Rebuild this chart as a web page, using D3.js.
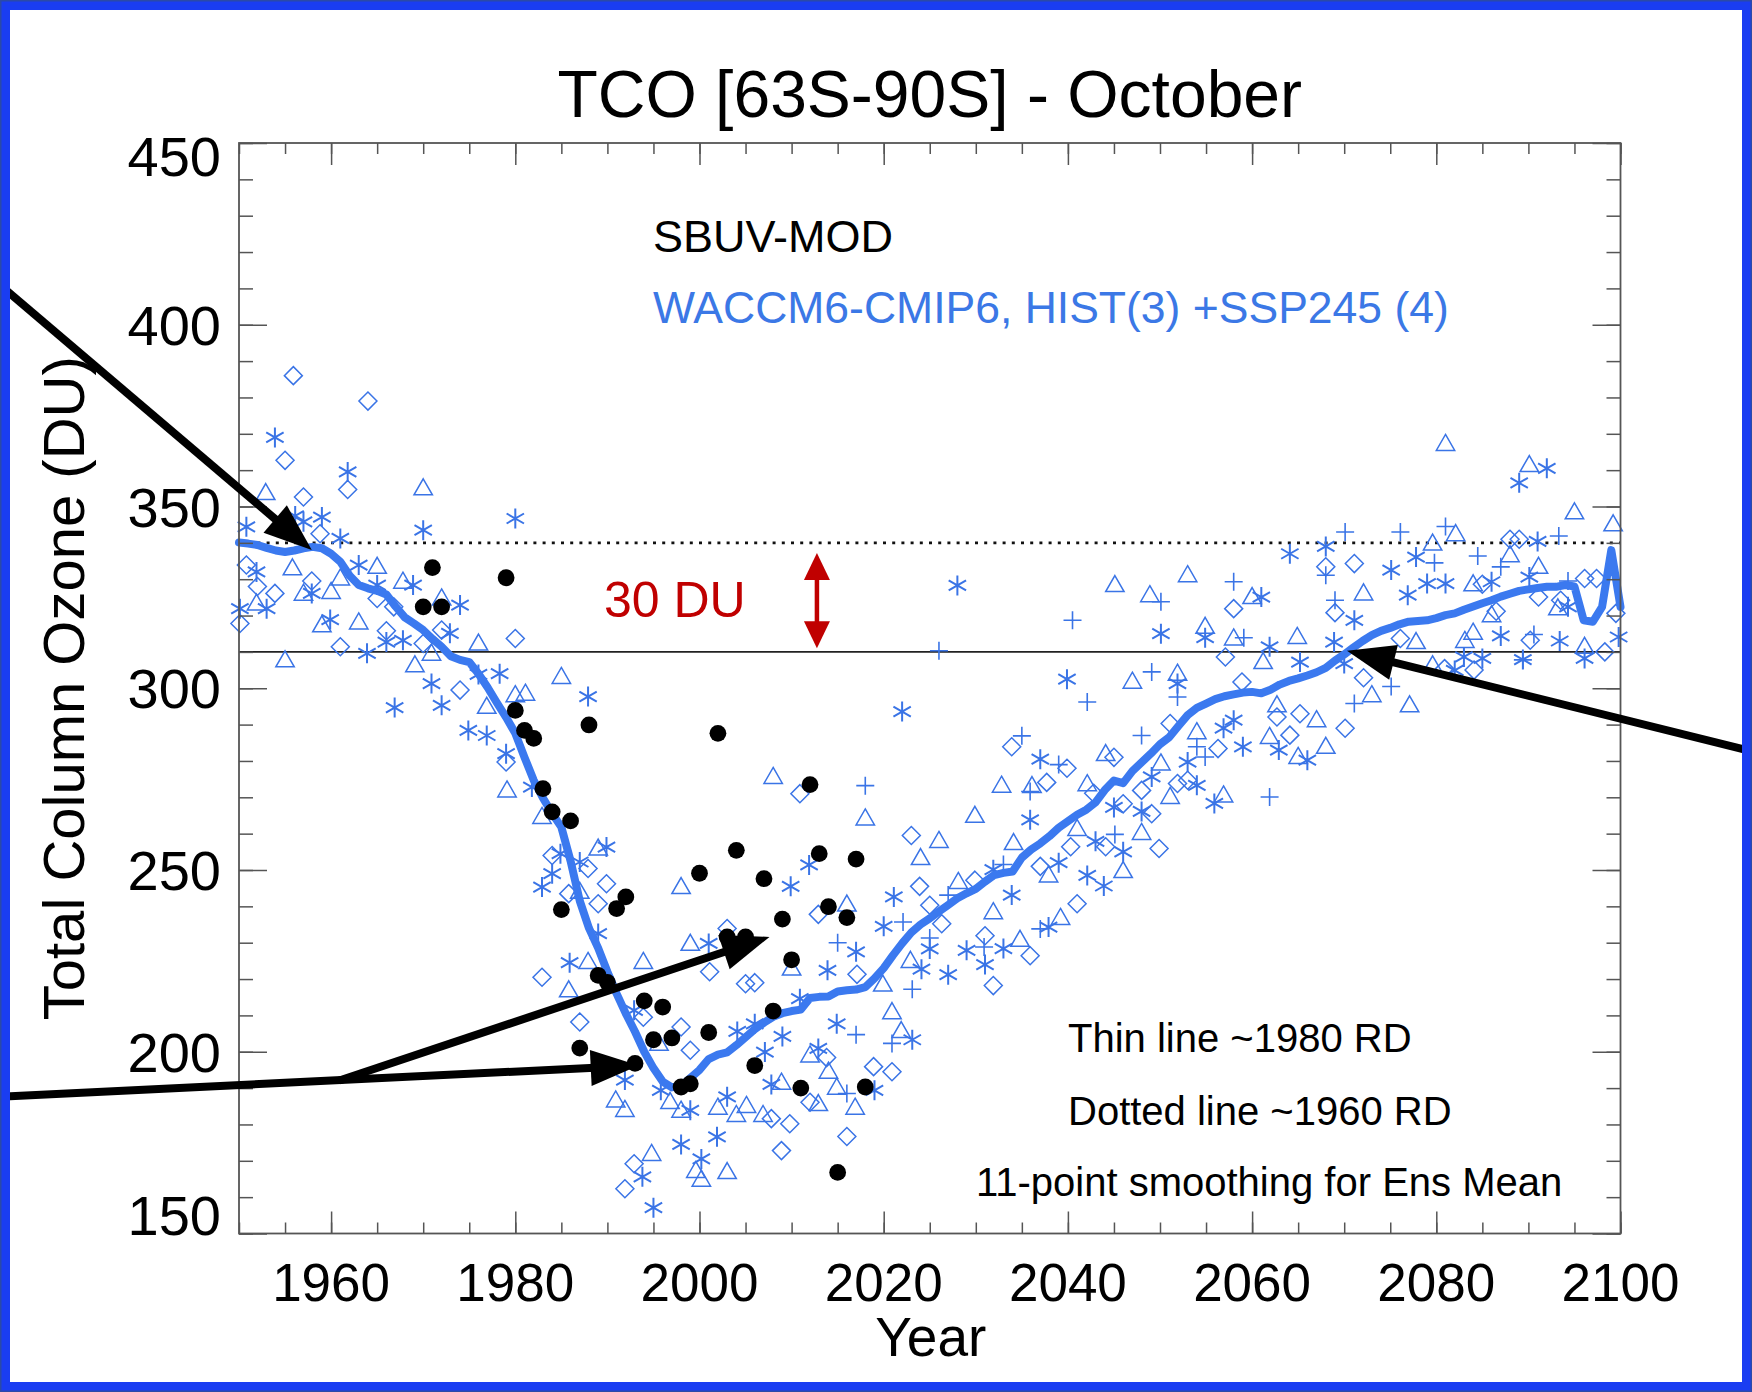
<!DOCTYPE html>
<html><head><meta charset="utf-8">
<script src="https://cdn.jsdelivr.net/npm/d3@7"></script>
<style>
html,body{margin:0;padding:0;background:#fff;}
svg{display:block;}
text{font-family:"Liberation Sans", Arial, Helvetica, sans-serif;}
</style></head><body>
<svg id="chart" width="1752" height="1392"></svg>
<script>
// ---------------- DATA ----------------
const xTickLabels = [1960, 1980, 2000, 2020, 2040, 2060, 2080, 2100];
const yTickLabels = [150, 200, 250, 300, 350, 400, 450];
const refLevels = [340, 310]; // dotted (~1960 RD), thin solid (~1980 RD)

const meanStartYear = 1950;
const ensMean = [
340.1,339.8,339.4,338.6,337.9,337.5,337.9,338.5,338.9,338.5,
337.0,334.8,331.0,328.4,327.5,326.8,325.8,322.5,319.5,317.8,
316.0,313.6,311.4,308.8,307.8,307.2,304.0,300.2,296.0,292.0,
287.6,281.0,274.7,269.8,265.6,261.8,252.5,241.5,234.0,228.5,
222.0,216.0,210.5,205.5,200.0,195.5,191.8,190.2,190.6,192.8,
195.0,198.0,199.2,199.8,201.8,204.0,206.2,208.0,209.6,210.6,
211.2,211.6,214.8,215.1,215.2,216.6,216.9,217.1,217.8,220.2,
223.0,226.5,229.8,232.8,235.0,236.7,238.6,240.4,242.2,243.6,
244.8,246.8,248.6,249.2,249.6,253.4,255.6,257.3,259.3,261.6,
263.4,265.2,266.6,268.6,272.0,274.6,273.9,277.2,279.6,282.0,
284.6,286.5,289.6,292.6,294.6,295.8,297.0,297.8,298.3,298.8,
299.0,298.6,299.6,301.0,302.0,302.7,303.5,304.4,305.6,307.6,
309.3,311.2,313.0,314.6,315.8,316.6,317.6,318.3,318.5,318.7,
319.3,320.1,320.6,321.6,322.5,323.4,324.2,325.2,326.0,326.8,
327.2,327.6,327.9,327.9,328.4,328.0,318.7,318.3,322.4,338.0,
322.4];

const sbuvYears = [1970,1971,1972,1979,1980,1981,1982,1983,1984,1985,1986,1987,1988,1989,1990,1991,1992,1993,1994,1995,1996,1997,1998,1999,2000,2001,2002,2003,2004,2005,2006,2007,2008,2009,2010,2011,2012,2013,2014,2015,2016,2017,2018];
const sbuvValues = [322.4,333.2,322.4,330.4,293.9,288.4,286.2,272.4,266.0,239.1,263.5,201.0,289.9,221.0,219.1,239.4,242.6,196.8,214.0,203.3,212.3,203.8,190.3,191.2,249.1,205.3,287.6,231.6,255.4,231.6,196.2,247.6,211.2,236.5,225.3,190.0,273.5,254.5,239.9,166.8,236.9,253.0,190.3];

const asteriskPts = [
[1950.1,321.9],[1950.8,344.4],[1951.9,332.0],[1953.0,321.9],[1953.9,369.0],[1956.1,347.4],[1957.0,345.8],[1957.9,326.1],[1959.0,347.1],[1959.9,318.9],
[1961.0,341.2],[1961.8,359.5],[1963.0,333.9],[1963.9,309.6],[1965.0,328.4],[1966.0,312.7],[1966.9,294.7],[1967.8,313.2],[1968.9,328.4],[1970.0,343.5],
[1970.9,301.3],[1972.0,295.3],[1972.9,315.1],[1974.0,322.9],[1974.9,288.4],[1976.0,303.8],[1976.9,287.0],[1978.3,304.0],[1979.0,282.0],[1980.0,346.7],
[1981.8,272.8],[1982.9,245.3],[1984.0,249.0],[1984.9,254.5],[1985.9,224.5],[1987.0,252.2],[1987.9,297.7],[1989.0,232.5],[1989.9,256.3],[1991.9,192.2],
[1992.9,211.4],[1993.8,165.6],[1995.0,157.1],[1995.8,189.4],[1998.0,174.5],[1999.0,183.9],[2000.2,170.5],[2001.0,229.8],[2001.9,176.6],[2003.0,187.6],
[2004.1,205.6],[2006.0,207.7],[2007.1,199.9],[2007.8,191.0],[2009.0,204.2],[2009.9,245.5],[2010.9,214.6],[2011.9,251.4],[2012.9,200.9],[2013.9,222.4],
[2014.9,207.7],[2017.0,227.5],[2019.0,189.4],[2020.0,234.5],[2021.1,242.6],[2022.0,293.6],[2023.1,203.3],[2024.1,222.7],[2025.0,228.3],[2027.0,221.2],
[2028.0,328.3],[2029.0,227.9],[2031.0,224.0],[2031.9,250.1],[2033.0,228.4],[2033.9,243.1],[2035.9,263.8],[2037.0,280.5],[2037.9,234.3],[2039.0,252.0],
[2039.9,302.5],[2042.1,248.5],[2043.0,257.9],[2043.9,245.6],[2045.0,267.2],[2046.0,255.0],[2048.0,266.1],[2049.1,275.6],[2050.1,315.0],[2051.9,301.3],
[2053.0,279.7],[2054.0,273.3],[2054.9,313.9],[2055.9,268.3],[2056.9,289.0],[2058.0,291.2],[2059.0,283.9],[2061.0,325.1],[2061.9,311.4],[2062.9,283.0],
[2064.1,337.0],[2065.2,307.2],[2066.0,280.2],[2068.0,339.0],[2068.9,312.7],[2070.0,306.8],[2071.1,318.7],[2075.1,332.5],[2076.9,325.6],[2077.8,336.1],
[2079.0,328.8],[2081.0,328.8],[2082.0,304.9],[2083.0,308.6],[2085.0,308.2],[2086.0,329.3],[2087.0,314.4],[2089.0,356.5],[2089.4,307.9],[2090.1,330.6],
[2091.0,340.4],[2092.0,360.5],[2093.4,313.0],[2094.3,322.4],[2096.1,308.2],[2099.8,314.1]];

const diamondPts = [
[1950.1,317.8],[1950.8,333.9],[1952.0,328.0],[1953.9,326.1],[1955.0,362.7],[1955.9,386.0],[1957.0,352.6],[1957.9,329.5],[1958.8,342.5],[1961.0,311.4],
[1961.8,354.7],[1964.0,379.0],[1965.0,324.7],[1966.0,315.8],[1966.8,322.4],[1970.0,312.3],[1972.0,316.0],[1974.0,299.5],[1979.0,279.7],[1980.0,313.7],
[1982.9,220.5],[1984.0,254.0],[1985.8,243.5],[1987.0,208.2],[1987.9,250.4],[1989.0,240.7],[1989.9,246.2],[1991.9,162.3],[1992.9,169.2],[1993.9,209.5],
[1998.0,206.8],[1999.0,200.4],[2001.1,222.0],[2003.0,233.9],[2005.0,218.7],[2006.0,219.0],[2007.8,181.6],[2008.9,172.8],[2009.8,180.2],[2010.9,271.0],
[2012.0,186.1],[2012.9,237.8],[2013.8,198.4],[2016.0,176.7],[2017.1,221.3],[2018.9,195.9],[2020.9,194.5],[2023.0,259.5],[2023.9,245.5],[2025.0,240.3],
[2026.3,235.2],[2029.9,247.2],[2031.0,231.9],[2031.9,218.2],[2033.9,283.9],[2035.9,226.4],[2037.0,251.0],[2037.7,274.1],[2039.9,278.0],[2040.3,256.4],
[2041.0,240.7],[2042.8,271.1],[2044.1,256.4],[2045.0,281.0],[2046.0,268.2],[2048.0,271.9],[2049.1,265.5],[2049.9,255.9],[2051.1,290.3],[2051.9,273.8],
[2053.0,274.7],[2056.3,283.4],[2057.1,308.6],[2058.0,321.9],[2058.9,301.7],[2062.7,292.1],[2064.1,287.1],[2065.2,293.0],[2068.0,333.4],[2069.0,320.8],
[2070.1,289.0],[2071.1,334.3],[2072.1,302.9],[2076.1,313.7],[2080.9,305.4],[2084.1,305.0],[2085.0,328.6],[2086.5,321.2],[2088.0,341.0],[2089.0,341.0],
[2090.2,313.2],[2091.1,325.1],[2093.5,324.2],[2096.1,330.2],[2097.4,330.2],[2098.3,310.0],[2099.5,320.6]];

const trianglePts = [
[1951.9,323.3],[1952.9,353.7],[1955.0,307.7],[1955.8,333.0],[1957.0,326.0],[1959.0,317.3],[1960.0,326.5],[1961.0,330.2],[1963.0,318.1],[1965.0,333.4],
[1967.8,329.3],[1969.1,306.3],[1970.0,355.0],[1970.9,309.5],[1972.0,324.7],[1976.0,312.3],[1976.9,294.9],[1979.1,271.9],[1980.0,298.1],[1981.1,298.5],
[1982.9,264.6],[1985.0,303.1],[1985.8,216.9],[1987.0,244.0],[1987.9,224.7],[1989.0,255.9],[1990.9,186.6],[1991.9,184.0],[1993.9,224.7],[1994.8,171.9],
[1995.6,202.2],[1996.8,186.2],[1998.0,245.3],[1998.0,183.8],[1999.0,229.7],[1999.6,167.2],[2000.2,164.8],[2002.0,184.6],[2003.0,166.9],[2004.0,182.6],
[2005.1,185.1],[2006.9,182.6],[2008.0,275.6],[2008.9,191.5],[2010.0,222.9],[2012.0,199.0],[2012.9,185.6],[2014.0,194.5],[2014.9,190.1],[2016.0,240.5],
[2016.9,184.6],[2018.0,264.2],[2019.9,218.5],[2020.9,210.9],[2021.9,205.7],[2022.9,225.0],[2024.0,253.3],[2026.0,258.0],[2028.1,246.7],[2029.9,264.9],
[2031.9,238.4],[2032.8,273.2],[2034.1,257.4],[2034.8,230.8],[2036.1,273.1],[2037.9,248.5],[2039.2,236.8],[2041.0,261.3],[2042.1,273.6],[2044.1,281.9],
[2045.1,328.4],[2046.0,249.7],[2047.0,301.8],[2048.0,260.2],[2048.9,325.6],[2050.1,279.3],[2051.1,270.1],[2051.9,304.0],[2053.0,331.1],[2054.0,287.9],
[2054.9,316.9],[2056.9,270.5],[2058.0,313.7],[2060.0,325.1],[2061.2,307.2],[2061.9,286.6],[2062.7,295.3],[2064.9,314.1],[2065.0,281.1],[2067.0,291.2],
[2068.0,283.9],[2072.1,326.1],[2073.0,298.1],[2077.1,295.3],[2077.8,312.7],[2079.6,339.8],[2079.6,306.3],[2081.0,367.2],[2082.1,342.4],[2083.1,313.0],
[2084.0,315.3],[2084.0,328.6],[2086.0,320.1],[2088.0,336.6],[2090.1,361.4],[2091.1,333.4],[2093.2,322.0],[2095.0,348.4],[2096.1,311.4],[2099.2,345.1]];

const plusPts = [
[2015.0,230.0],[2016.0,188.5],[2017.0,204.7],[2018.0,273.2],[2020.9,202.3],[2022.1,235.7],[2023.1,217.2],[2025.0,231.3],[2026.0,310.3],[2027.0,243.1],
[2030.9,228.8],[2033.0,251.5],[2035.0,286.9],[2035.9,271.6],[2037.0,233.8],[2039.0,279.0],[2040.5,318.7],[2042.1,296.2],[2045.1,259.8],[2048.0,287.0],
[2049.1,304.5],[2050.1,323.8],[2051.9,297.6],[2054.0,283.9],[2054.9,281.1],[2058.0,329.3],[2059.1,313.9],[2061.9,270.1],[2068.0,331.1],[2069.0,324.2],
[2070.1,343.0],[2071.1,295.8],[2075.1,300.5],[2076.1,343.0],[2079.8,334.5],[2081.0,344.5],[2084.5,336.4],[2087.0,333.4],[2089.4,307.8],[2090.6,314.8],
[2093.3,341.9],[2094.3,329.5]];

// annotation arrows in data units [year, DU] : from -> to
const arrowSpecs = [
  {from:[1923.1,413.0], to:[1957.9,338.0]},
  {from:[2115.3,282.0], to:[2070.3,310.3]},
  {from:[1923.1,187.5], to:[1993.4,196.2]},
  {from:[1960.9,192.1], to:[2007.6,231.6]}
];
const redArrowYear = 2012.75, redArrowRange = [337.2, 311.0];

// ---------------- CHART ----------------
const W = 1752, H = 1392;
const svg = d3.select('#chart');
svg.append('rect').attr('width', W).attr('height', H).attr('fill', '#fff');

const x = d3.scaleLinear().domain([1950, 2100]).range([239, 1620.5]);
const y = d3.scaleLinear().domain([150, 450]).range([1233.5, 143]);
const X0 = x(1950), X1 = x(2100), Y0 = y(450), Y1 = y(150);

const blue = '#3a74e6';
const lineBlue = '#3b79ef';

// reference lines
svg.append('line').attr('x1', X0).attr('x2', X1).attr('y1', y(refLevels[0])).attr('y2', y(refLevels[0]))
  .attr('stroke', '#111').attr('stroke-width', 2.6).attr('stroke-dasharray', '3 6.2');
svg.append('line').attr('x1', X0).attr('x2', X1).attr('y1', y(refLevels[1])).attr('y2', y(refLevels[1]))
  .attr('stroke', '#222').attr('stroke-width', 1.8);

// markers
const mk = svg.append('g').attr('fill', 'none').attr('stroke', blue);
mk.selectAll('path.dia').data(diamondPts).join('path').attr('class', 'dia')
  .attr('d', d => { const cx = x(d[0]), cy = y(d[1]), r = 9; return `M${cx},${cy-r}L${cx+r},${cy}L${cx},${cy+r}L${cx-r},${cy}Z`; })
  .attr('stroke-width', 1.5);
mk.selectAll('path.tri').data(trianglePts).join('path').attr('class', 'tri')
  .attr('d', d => { const cx = x(d[0]), cy = y(d[1]), a = 9.2; return `M${cx},${cy-9.5}L${cx+a},${cy+6.5}L${cx-a},${cy+6.5}Z`; })
  .attr('stroke-width', 1.5);
mk.selectAll('path.pls').data(plusPts).join('path').attr('class', 'pls')
  .attr('d', d => { const cx = x(d[0]), cy = y(d[1]), r = 9; return `M${cx-r},${cy}H${cx+r}M${cx},${cy-r}V${cy+r}`; })
  .attr('stroke-width', 1.6);
mk.selectAll('path.ast').data(asteriskPts).join('path').attr('class', 'ast')
  .attr('d', d => { const cx = x(d[0]), cy = y(d[1]), r = 10, a = r*0.87, b = r*0.5;
    return `M${cx},${cy-r}V${cy+r}M${cx-a},${cy-b}L${cx+a},${cy+b}M${cx-a},${cy+b}L${cx+a},${cy-b}`; })
  .attr('stroke-width', 2);

// ensemble mean line
const meanData = ensMean.map((v, i) => [meanStartYear + i, v]);
svg.append('path').datum(meanData)
  .attr('d', d3.line().x(d => x(d[0])).y(d => y(d[1])))
  .attr('fill', 'none').attr('stroke', lineBlue).attr('stroke-width', 8)
  .attr('stroke-linejoin', 'round').attr('stroke-linecap', 'round');

// SBUV observations
svg.append('g').selectAll('circle').data(sbuvYears.map((yr, i) => [yr, sbuvValues[i]])).join('circle')
  .attr('cx', d => x(d[0])).attr('cy', d => y(d[1])).attr('r', 8.4).attr('fill', '#000');

// axes: ticks pointing inward
const tickColor = '#555';
function ticks(gen, tr) {
  const g = svg.append('g').attr('transform', tr).call(gen);
  g.select('.domain').remove();
  g.selectAll('text').remove();
  g.selectAll('line').attr('stroke', tickColor).attr('stroke-width', 1.5);
}
const xMinor = x.ticks(30), yMinor = y.ticks(30);
ticks(d3.axisTop(x).tickValues(xMinor).tickSize(11), `translate(0,${Y1})`);
ticks(d3.axisTop(x).tickValues(xTickLabels).tickSize(22), `translate(0,${Y1})`);
ticks(d3.axisBottom(x).tickValues(xMinor).tickSize(11), `translate(0,${Y0})`);
ticks(d3.axisBottom(x).tickValues(xTickLabels).tickSize(22), `translate(0,${Y0})`);
ticks(d3.axisRight(y).tickValues(yMinor).tickSize(14), `translate(${X0},0)`);
ticks(d3.axisRight(y).tickValues(yTickLabels).tickSize(28), `translate(${X0},0)`);
ticks(d3.axisLeft(y).tickValues(yMinor).tickSize(14), `translate(${X1},0)`);
ticks(d3.axisLeft(y).tickValues(yTickLabels).tickSize(28), `translate(${X1},0)`);
svg.append('rect').attr('x', X0).attr('y', Y0).attr('width', X1 - X0).attr('height', Y1 - Y0)
  .attr('fill', 'none').attr('stroke', '#555').attr('stroke-width', 1.8);

// tick labels
svg.append('g').selectAll('text').data(xTickLabels).join('text')
  .attr('x', d => x(d)).attr('y', Y1 + 67).attr('text-anchor', 'middle')
  .attr('font-size', 53).attr('fill', '#000').text(d => d);
svg.append('g').selectAll('text').data(yTickLabels).join('text')
  .attr('x', X0 - 18).attr('y', d => d === 450 ? Y0 + 33 : d === 150 ? Y1 + 1 : y(d) + 20)
  .attr('text-anchor', 'end').attr('font-size', 56).attr('fill', '#000').text(d => d);

// axis titles and title
svg.append('text').attr('x', (X0 + X1) / 2).attr('y', 117).attr('text-anchor', 'middle')
  .attr('font-size', 66).attr('fill', '#000').text('TCO [63S-90S] - October');
svg.append('text').attr('x', (X0 + X1) / 2 + 1).attr('y', 1356).attr('text-anchor', 'middle')
  .attr('font-size', 55).attr('fill', '#000').text('Year');
svg.append('text').attr('transform', `translate(84,${(Y0 + Y1) / 2}) rotate(-90)`).attr('text-anchor', 'middle')
  .attr('font-size', 58).attr('fill', '#000').text('Total Column Ozone (DU)');

// legend texts
svg.append('text').attr('x', 653).attr('y', 252).attr('font-size', 45).attr('fill', '#000').text('SBUV-MOD');
svg.append('text').attr('x', 653).attr('y', 323).attr('font-size', 44.5).attr('fill', '#3b78e6').text('WACCM6-CMIP6, HIST(3) +SSP245 (4)');

// notes
svg.append('text').attr('x', 1068).attr('y', 1052).attr('font-size', 40).attr('fill', '#000').text('Thin line ~1980 RD');
svg.append('text').attr('x', 1068).attr('y', 1125).attr('font-size', 40).attr('fill', '#000').text('Dotted line ~1960 RD');
svg.append('text').attr('x', 976).attr('y', 1196).attr('font-size', 40).attr('fill', '#000').text('11-point smoothing for Ens Mean');

// 30 DU annotation
svg.append('text').attr('x', 604).attr('y', 617).attr('font-family', 'Lato, "Open Sans", sans-serif')
  .attr('font-size', 50).attr('fill', '#c00000').text('30 DU');
(function () {
  const cx = x(redArrowYear), ya = y(redArrowRange[0]), yb = y(redArrowRange[1]), hl = 27, hw = 13;
  const g = svg.append('g');
  g.append('line').attr('x1', cx).attr('x2', cx).attr('y1', ya + hl - 2).attr('y2', yb - hl + 2)
    .attr('stroke', '#c00000').attr('stroke-width', 4.5);
  g.append('path').attr('d', `M${cx},${ya}L${cx + hw},${ya + hl}L${cx - hw},${ya + hl}Z`).attr('fill', '#c00000');
  g.append('path').attr('d', `M${cx},${yb}L${cx + hw},${yb - hl}L${cx - hw},${yb - hl}Z`).attr('fill', '#c00000');
})();

// black annotation arrows
const ag = svg.append('g');
arrowSpecs.forEach(a => {
  const x1 = x(a.from[0]), y1 = y(a.from[1]), x2 = x(a.to[0]), y2 = y(a.to[1]);
  const L = Math.hypot(x2 - x1, y2 - y1), ux = (x2 - x1) / L, uy = (y2 - y1) / L;
  const hl = 48, hw = 18, bx = x2 - ux * hl, by = y2 - uy * hl;
  ag.append('line').attr('x1', x1).attr('y1', y1).attr('x2', bx + ux * 4).attr('y2', by + uy * 4)
    .attr('stroke', '#000').attr('stroke-width', 8);
  ag.append('path').attr('d', `M${x2},${y2}L${bx - uy * hw},${by + ux * hw}L${bx + uy * hw},${by - ux * hw}Z`).attr('fill', '#000');
});

// blue outer frame
svg.append('rect').attr('x', 5).attr('y', 5).attr('width', W - 10).attr('height', H - 10)
  .attr('fill', 'none').attr('stroke', '#1a3df2').attr('stroke-width', 10);
svg.append('rect').attr('x', 0.75).attr('y', 0.75).attr('width', W - 1.5).attr('height', H - 1.5)
  .attr('fill', 'none').attr('stroke', '#2b4aa8').attr('stroke-width', 1.5);
</script></body></html>
